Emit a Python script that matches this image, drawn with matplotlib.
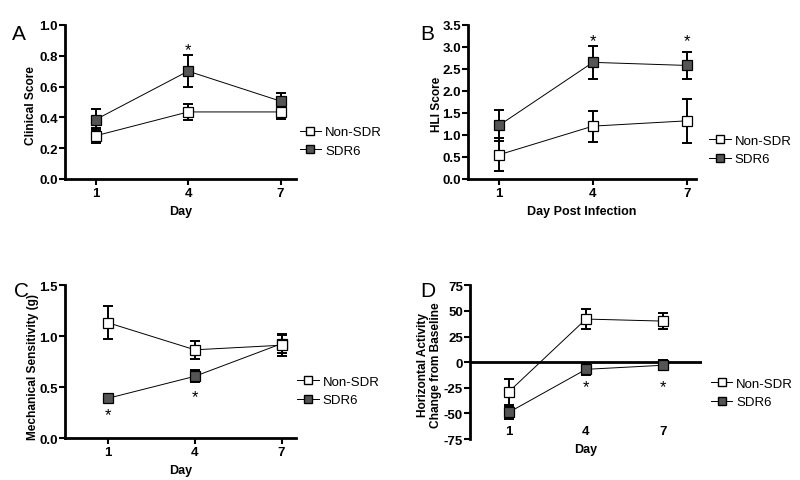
import numpy as np
from matplotlib import pyplot as plt

plt.rcParams['font.family'] = ['Liberation Sans', 'DejaVu Sans']

days = [1, 4, 7]

# panel A - clinical score
a_non = [0.28, 0.435, 0.435]
a_non_err = [0.05, 0.05, 0.043]
a_sdr = [0.385, 0.70, 0.505]
a_sdr_err = [0.07, 0.105, 0.05]

# panel B - HLI score
b_non = [0.55, 1.2, 1.32]
b_non_err = [0.38, 0.35, 0.50]
b_sdr = [1.22, 2.65, 2.58]
b_sdr_err = [0.35, 0.37, 0.30]

# panel C - mechanical sensitivity
c_non = [1.13, 0.865, 0.91]
c_non_err = [0.16, 0.09, 0.11]
c_sdr = [0.39, 0.605, 0.925]
c_sdr_err = [0.03, 0.06, 0.09]

# panel D - horizontal activity
d_non = [-29, 42, 40]
d_non_err = [12.5, 10, 8]
d_sdr = [-49, -7, -3]
d_sdr_err = [6.5, 6, 5]

fig = plt.figure(figsize=(8, 4.81), dpi=100)

def panel(rect, non, non_err, sdr, sdr_err, ylim, yticks, ylabel, xlabel, xlim, letter, letter_pos,
          fmt, lab_xy):
    ax = fig.add_axes(rect)
    for y, e, fc in [(sdr, sdr_err, '#555555'), (non, non_err, 'white')]:
        ax.plot(days, y, color='black', lw=0.7, zorder=2)
        ax.errorbar(days, y, yerr=e, fmt='none', ecolor='black', elinewidth=1.4,
                    capsize=3.5, capthick=1.4, zorder=3)
        ax.plot(days, y, ls='none', marker='s', ms=7, mfc=fc, mec='black', mew=0.9, zorder=4)
    ax.set_xlim(*xlim)
    ax.set_ylim(*ylim)
    ax.set_xticks(days)
    ax.set_yticks(yticks)
    ax.set_yticklabels([fmt.format(v) for v in yticks])
    for s in ['top', 'right']:
        ax.spines[s].set_visible(False)
    for s in ['left', 'bottom']:
        ax.spines[s].set_linewidth(2)
    ax.tick_params(width=1.5, length=4, labelsize=9.5, pad=2)
    ax.tick_params(axis='y', pad=1)
    for lbl in ax.get_xticklabels() + ax.get_yticklabels():
        lbl.set_fontweight('bold')
    ax.set_ylabel(ylabel, fontsize=8.6, fontweight='bold', linespacing=1.1)
    ax.yaxis.set_label_coords(*lab_xy)
    ax.set_xlabel(xlabel, fontsize=9, fontweight='bold', labelpad=4)
    fig.text(letter_pos[0], letter_pos[1], letter, fontsize=15, va='center', ha='left')
    return ax

def legend(x, y):
    h1, = plt.plot([], [], color='black', lw=0.7, marker='s', ms=6, mfc='white', mec='black')
    h2, = plt.plot([], [], color='black', lw=0.7, marker='s', ms=6, mfc='#555555', mec='black')
    fig.legend([h1, h2], ['Non-SDR', 'SDR6'], loc='center left', bbox_to_anchor=(x, y),
               frameon=False, fontsize=9.5, handlelength=1.6, handletextpad=0.3, labelspacing=0.45)

axA = panel([0.081, 0.626, 0.289, 0.32], a_non, a_non_err, a_sdr, a_sdr_err,
            (0, 1.0), np.arange(0, 1.01, 0.2), 'Clinical Score', 'Day', (0, 7.5), 'A', (0.015, 0.929),
            '{:.1f}', (-0.121, 0.48))
axA.text(4, 0.84, '*', ha='center', va='center', fontsize=12)
legend(0.36, 0.704)

axB = panel([0.585, 0.626, 0.285, 0.32], b_non, b_non_err, b_sdr, b_sdr_err,
            (0, 3.5), np.arange(0, 3.51, 0.5), 'HLI Score', 'Day Post Infection', (0, 7.3), 'B', (0.525, 0.929),
            '{:.1f}', (-0.11, 0.49))
for d in [4, 7]:
    axB.text(d, 3.15, '*', ha='center', va='center', fontsize=12)
legend(0.872, 0.686)

axC = panel([0.081, 0.0873, 0.289, 0.318], c_non, c_non_err, c_sdr, c_sdr_err,
            (0, 1.5), np.arange(0, 1.51, 0.5), 'Mechanical Sensitivity (g)', 'Day', (-0.5, 7.5), 'C', (0.017, 0.395),
            '{:.1f}', (-0.113, 0.47))
axC.text(1, 0.23, '*', ha='center', va='center', fontsize=12)
axC.text(4, 0.41, '*', ha='center', va='center', fontsize=12)
legend(0.357, 0.185)

axD = panel([0.5875, 0.085, 0.29, 0.32], d_non, d_non_err, d_sdr, d_sdr_err,
            (-75, 75), np.arange(-75, 76, 25), 'Horizontal Activity\nChange from Baseline', 'Day', (-0.5, 8.5), 'D', (0.525, 0.395),
            '{:d}', (-0.121, 0.49))
axD.spines['bottom'].set_visible(False)
axD.axhline(0, color='black', lw=2, zorder=1)
axD.tick_params(axis='x', length=0, pad=-10)
axD.xaxis.labelpad = 3
for d in [4, 7]:
    axD.text(d, -24, '*', ha='center', va='center', fontsize=12)
legend(0.874, 0.181)

fig.savefig('out.png', dpi=100)
